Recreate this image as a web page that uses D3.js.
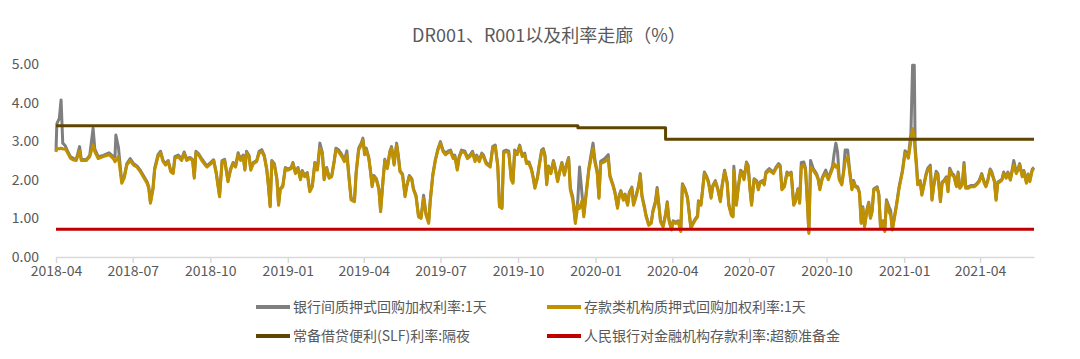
<!DOCTYPE html>
<html><head><meta charset="utf-8">
<script src="https://cdn.jsdelivr.net/npm/d3@7/dist/d3.min.js"></script>
<style>body{margin:0;background:#fff}text{font-family:"Noto Sans CJK SC","Noto Sans",sans-serif;fill:#595959}</style>
</head><body>
<script>
// ---- DATA ----
const title = "DR001、R001以及利率走廊（%）";
const baseDate = "2018-04-01";
const endDay = 1160;
// observation day, counted in days from 2018-04-01
const days = [0,1,4,6,8,11,13,17,21,24,28,30,36,40,44,46,50,56,63,68,70,71,74,78,81,84,88,92,96,100,104,108,110,112,115,117,121,124,127,130,133,136,139,141,145,149,152,155,159,162,164,166,169,173,177,179,183,187,190,194,
197,200,204,207,210,213,216,219,222,224,226,229,231,234,238,241,244,247,250,252,254,256,259,262,264,266,269,272,275,279,281,284,287,290,292,295,298,301,304,307,310,313,316,318,321,324,327,330,332,335,339,342,345,347,350,354,356,359,362,364,366,368,371,373,375,377,380,383,385,388,
390,393,396,398,401,404,406,408,411,414,416,419,422,424,427,430,433,436,439,442,444,447,450,453,456,459,462,465,468,471,473,476,478,481,485,488,491,494,497,499,502,505,507,510,512,515,518,521,524,526,529,531,534,537,540,542,544,547,550,553,556,558,561,564,566,568,571,573,576,578,580,582,
584,587,590,592,595,597,600,603,605,608,610,613,616,619,621,624,626,629,632,635,637,639,642,644,646,651,655,657,661,663,666,668,670,673,675,678,680,683,685,688,691,693,695,698,700,703,706,708,711,713,715,717,720,723,725,727,730,732,735,738,741,743,746,749,751,753,756,758,761,762,765,767,769,772,774,
777,779,782,785,788,790,793,796,798,801,803,804,807,809,812,814,816,819,821,823,825,828,831,833,835,838,840,842,846,848,851,854,857,859,861,864,867,869,872,875,877,880,882,884,887,889,891,893,895,898,902,904,906,909,911,913,916,918,921,923,925,927,929,932,934,936,939,941,944,946,948,951,953,955,957,959,962,964,966,
968,970,974,976,978,981,983,985,988,990,992,995,997,1000,1004,1007,1009,1011,1014,1016,1018,1019,1021,1022,1025,1027,1030,1032,1034,1037,1039,1041,1044,1046,1049,1051,1053,1056,1058,1060,1063,1065,1068,1070,1072,1075,1077,1079,1082,1085,1089,1092,1095,1098,1101,1103,1105,1108,1110,1113,1115,1117,1120,1122,1124,1127,1129,1132,1134,1136,1139,1141,1143,1146,1148,1151,1153,1155,1158,1160];
// 存款类机构质押式回购加权利率:1天 (DR001)
const dr001 = [2.72,2.82,2.80,2.82,2.80,2.80,2.73,2.56,2.51,2.50,2.75,2.50,2.50,2.60,2.90,2.73,2.55,2.60,2.65,2.55,2.47,2.50,2.60,1.91,2.05,2.38,2.50,2.38,2.33,2.21,2.06,1.91,1.78,1.39,1.74,2.25,2.60,2.70,2.47,2.38,2.47,2.21,2.16,2.55,2.60,2.50,2.68,2.50,2.55,2.50,2.04,2.70,2.65,2.50,2.38,2.33,2.40,2.49,2.16,1.56,
2.47,2.50,1.95,2.25,2.42,2.33,2.65,2.50,2.60,2.25,2.70,2.60,2.25,2.42,2.47,2.70,2.73,2.60,2.25,1.82,1.30,2.47,2.38,2.00,1.34,1.74,1.82,2.29,2.25,2.29,2.42,2.16,2.29,2.00,2.21,2.08,2.16,1.69,1.82,2.42,2.25,2.82,2.65,2.00,2.29,2.04,2.08,2.47,2.77,2.73,2.60,2.47,2.65,2.16,1.48,1.43,2.16,2.77,2.90,3.03,2.65,2.77,2.55,2.21,1.82,2.08,2.00,1.74,1.17,2.00,
2.50,2.29,2.70,2.82,2.38,2.90,2.60,2.21,2.12,1.56,1.82,2.08,2.00,1.74,1.56,1.04,1.00,1.52,1.08,0.87,1.47,2.12,2.50,2.77,2.95,2.73,2.65,2.70,2.73,2.55,2.60,2.25,2.55,2.73,2.70,2.55,2.60,2.70,2.47,2.60,2.47,2.65,2.60,2.42,2.38,2.33,2.82,2.86,2.33,1.30,1.26,2.70,2.73,2.70,2.00,1.91,2.73,2.65,2.86,2.60,2.65,2.42,2.42,2.25,2.04,1.78,2.04,2.33,2.73,2.77,2.60,1.87,
2.33,2.16,2.47,2.29,1.95,2.16,2.42,2.12,2.33,2.55,1.74,1.47,0.87,1.34,1.26,1.47,1.04,1.65,2.25,2.60,2.82,2.47,2.16,1.52,2.42,2.47,2.55,2.08,1.82,1.65,1.26,1.56,1.69,1.47,1.60,1.34,1.65,1.78,1.34,1.56,1.82,2.12,1.56,1.26,1.04,0.82,0.87,1.17,1.39,1.74,1.34,0.91,0.78,1.08,1.39,0.95,0.70,0.91,0.87,0.91,0.66,1.87,1.74,1.52,1.13,0.74,0.87,0.95,1.04,1.43,1.34,1.74,2.16,2.04,1.91,
1.52,1.82,1.95,1.74,1.43,1.82,2.21,1.91,1.34,1.08,1.04,2.25,1.34,1.74,2.21,2.16,2.00,2.42,2.33,1.78,1.34,2.00,1.95,1.74,1.91,1.95,1.87,2.16,2.25,2.21,2.16,2.29,2.38,2.33,1.74,1.82,2.16,2.12,2.16,1.34,1.43,1.74,1.39,2.33,2.38,2.25,1.47,0.61,2.33,2.25,2.12,2.00,1.74,2.04,2.12,2.16,2.00,2.12,2.29,2.42,2.33,2.38,2.00,1.87,2.16,2.47,2.60,2.25,1.74,1.95,1.82,1.78,1.65,0.87,1.26,0.78,1.21,1.39,1.00,
1.17,1.74,1.78,1.60,0.74,0.91,0.66,1.43,1.17,1.08,0.70,1.08,1.34,1.78,2.21,2.69,2.64,2.56,3.00,3.33,3.07,2.73,2.21,1.87,1.95,1.60,1.91,2.12,2.25,2.33,1.47,1.82,2.16,2.12,1.43,1.91,1.95,2.04,1.69,2.25,2.12,2.08,1.82,2.16,1.78,1.87,2.38,1.78,1.78,1.82,1.82,1.87,1.95,2.12,1.91,1.82,1.95,2.25,2.16,1.95,1.47,1.91,1.95,1.99,2.16,2.04,2.16,1.99,2.21,2.38,2.16,2.25,2.38,2.08,2.21,1.91,2.12,1.95,2.25,2.29];
// 银行间质押式回购加权利率:1天 (R001)
const r001 = [2.75,3.45,3.60,4.07,2.95,2.88,2.78,2.60,2.55,2.53,2.86,2.53,2.52,2.63,3.34,2.80,2.60,2.63,2.70,2.60,2.60,3.16,2.85,1.95,2.10,2.42,2.55,2.42,2.36,2.25,2.10,1.95,1.82,1.42,1.78,2.30,2.65,2.74,2.50,2.42,2.50,2.25,2.20,2.60,2.64,2.54,2.72,2.54,2.58,2.53,2.08,2.74,2.68,2.54,2.42,2.36,2.44,2.52,2.20,1.60,
2.50,2.53,1.98,2.28,2.45,2.36,2.70,2.53,2.64,2.28,2.74,2.63,2.28,2.45,2.50,2.74,2.78,2.64,2.28,1.85,1.33,2.50,2.42,2.03,1.37,1.77,1.85,2.32,2.28,2.32,2.45,2.19,2.32,2.03,2.24,2.11,2.19,1.72,1.85,2.45,2.28,2.95,2.70,2.03,2.32,2.07,2.11,2.50,2.82,2.78,2.65,2.50,2.75,2.20,1.52,1.47,2.20,2.82,2.95,3.08,2.72,2.82,2.58,2.24,1.85,2.11,2.03,1.77,1.20,2.03,
2.53,2.32,2.74,2.86,2.42,2.95,2.64,2.24,2.15,1.60,1.85,2.11,2.03,1.77,1.60,1.07,1.03,1.60,1.10,0.90,1.50,2.15,2.53,2.80,2.99,2.77,2.69,2.74,2.77,2.59,2.64,2.28,2.59,2.77,2.74,2.59,2.64,2.74,2.51,2.64,2.51,2.69,2.64,2.46,2.42,2.37,2.86,2.90,2.37,1.33,1.30,2.74,2.77,2.74,2.03,1.94,2.77,2.69,2.90,2.64,2.69,2.46,2.46,2.28,2.07,1.81,2.07,2.37,2.77,2.81,2.64,1.90,
2.36,2.19,2.50,2.32,1.98,2.19,2.45,2.15,2.36,2.58,1.80,1.55,0.92,1.50,2.33,1.60,1.10,1.70,2.30,2.70,2.95,2.55,2.20,1.55,2.48,2.55,2.65,2.12,1.85,1.68,1.30,1.60,1.72,1.50,1.63,1.37,1.68,1.81,1.37,1.60,1.85,2.16,1.60,1.30,1.07,0.85,0.90,1.20,1.45,1.80,1.37,0.94,0.80,1.12,1.43,0.98,0.72,0.94,0.90,0.94,0.68,1.90,1.77,1.55,1.16,0.77,0.90,0.98,1.07,1.46,1.37,1.77,2.20,2.08,1.95,
1.56,1.85,1.98,1.77,1.46,1.85,2.25,1.95,1.37,1.11,1.07,2.35,1.40,1.77,2.25,2.20,2.03,2.46,2.37,1.81,1.37,2.03,1.98,1.77,1.94,1.98,1.90,2.20,2.29,2.25,2.20,2.33,2.42,2.37,1.77,1.85,2.20,2.15,2.20,1.37,1.46,1.77,1.42,2.45,2.46,2.30,1.50,0.64,2.50,2.30,2.16,2.04,1.77,2.07,2.16,2.25,2.04,2.16,2.35,2.68,2.95,2.72,2.05,1.90,2.20,2.77,2.77,2.33,1.77,1.98,1.85,1.81,1.68,0.90,1.30,0.80,1.25,1.42,1.03,
1.20,1.77,1.82,1.63,0.77,0.94,0.68,1.48,1.30,1.20,0.72,1.12,1.37,1.82,2.25,2.75,2.70,2.62,3.20,4.97,4.97,2.90,2.30,1.92,1.98,1.63,1.94,2.16,2.30,2.38,1.50,1.85,2.22,2.16,1.46,1.94,1.98,2.08,1.72,2.30,2.16,2.12,1.85,2.20,1.81,1.90,2.45,1.82,1.82,1.85,1.85,1.90,1.98,2.16,1.94,1.85,1.98,2.28,2.20,1.98,1.50,1.94,1.98,2.02,2.20,2.07,2.20,2.02,2.25,2.50,2.20,2.28,2.42,2.11,2.24,1.94,2.15,1.98,2.28,2.32];
// 常备借贷便利(SLF)利率:隔夜 — change points
const slfDays = [0,619,723,1160];
const slfValues = [3.40,3.35,3.05,3.05];
// 人民银行对金融机构存款利率:超额准备金
const ioerDays = [0,1160];
const ioerValues = [0.72,0.72];
const yTicks = [0,1,2,3,4,5];
const seriesNames = ["银行间质押式回购加权利率:1天","存款类机构质押式回购加权利率:1天","常备借贷便利(SLF)利率:隔夜","人民银行对金融机构存款利率:超额准备金"];
const seriesColors = ["#7f7f7f","#bf9000","#5f4600","#c00000"];

// ---- CHART ----
const W = 1080, H = 359;
const base = Date.parse(baseDate + "T00:00:00Z");
const toDate = d => new Date(base + d * 864e5);
const svg = d3.select("body").append("svg").attr("width", W).attr("height", H);

const x = d3.scaleUtc().domain([toDate(0), toDate(endDay)]).range([56, 1034]);
const y = d3.scaleLinear().domain([0, 5]).range([257, 64]);

svg.append("text").attr("x", 549).attr("y", 42).attr("text-anchor", "middle")
  .style("font-size", "18px").text(title);

// y labels
svg.append("g").selectAll("text").data(yTicks).join("text")
  .attr("x", 39).attr("y", d => y(d)).attr("dy", "0.35em").attr("text-anchor", "end")
  .style("font-size", "14px").text(d3.format(".2f"));

// x axis
const xa = svg.append("g").attr("transform", "translate(0,257)")
  .call(d3.axisBottom(x).ticks(d3.utcMonth.every(3)).tickFormat(d3.utcFormat("%Y-%m")).tickSize(6).tickSizeOuter(0));
xa.select(".domain").attr("stroke", "#d9d9d9").attr("stroke-width", 1.5);
xa.selectAll(".tick line").attr("stroke", "#d9d9d9").attr("stroke-width", 1.5);
xa.selectAll(".tick text").attr("fill", "#595959").style("font-size", "14px")
  .style("font-family", '"Noto Sans CJK SC","Noto Sans",sans-serif');

const line = d3.line().x(d => x(toDate(d[0]))).y(d => y(d[1])).curve(d3.curveLinear);
const series = [
  d3.zip(days, r001),
  d3.zip(days, dr001),
  d3.zip(slfDays, slfValues),
  d3.zip(ioerDays, ioerValues)
];
const stepLine = d3.line().x(d => x(toDate(d[0]))).y(d => y(d[1])).curve(d3.curveStepAfter);
series.forEach((s, i) => {
  svg.append("path").datum(s)
    .attr("fill", "none").attr("stroke", seriesColors[i]).attr("stroke-width", 3)
    .attr("stroke-linejoin", "round")
    .attr("d", i === 2 ? stepLine : line);
});

// legend
const lg = svg.append("g");
seriesNames.forEach((n, i) => {
  const lx = i % 2 === 0 ? 256 : 547;
  const ly = i < 2 ? 307 : 336;
  lg.append("line").attr("x1", lx).attr("x2", lx + 34).attr("y1", ly).attr("y2", ly)
    .attr("stroke", seriesColors[i]).attr("stroke-width", 4);
  lg.append("text").attr("x", lx + 37).attr("y", ly).attr("dy", "0.35em")
    .style("font-size", "14px").text(n);
});
</script>
</body></html>
